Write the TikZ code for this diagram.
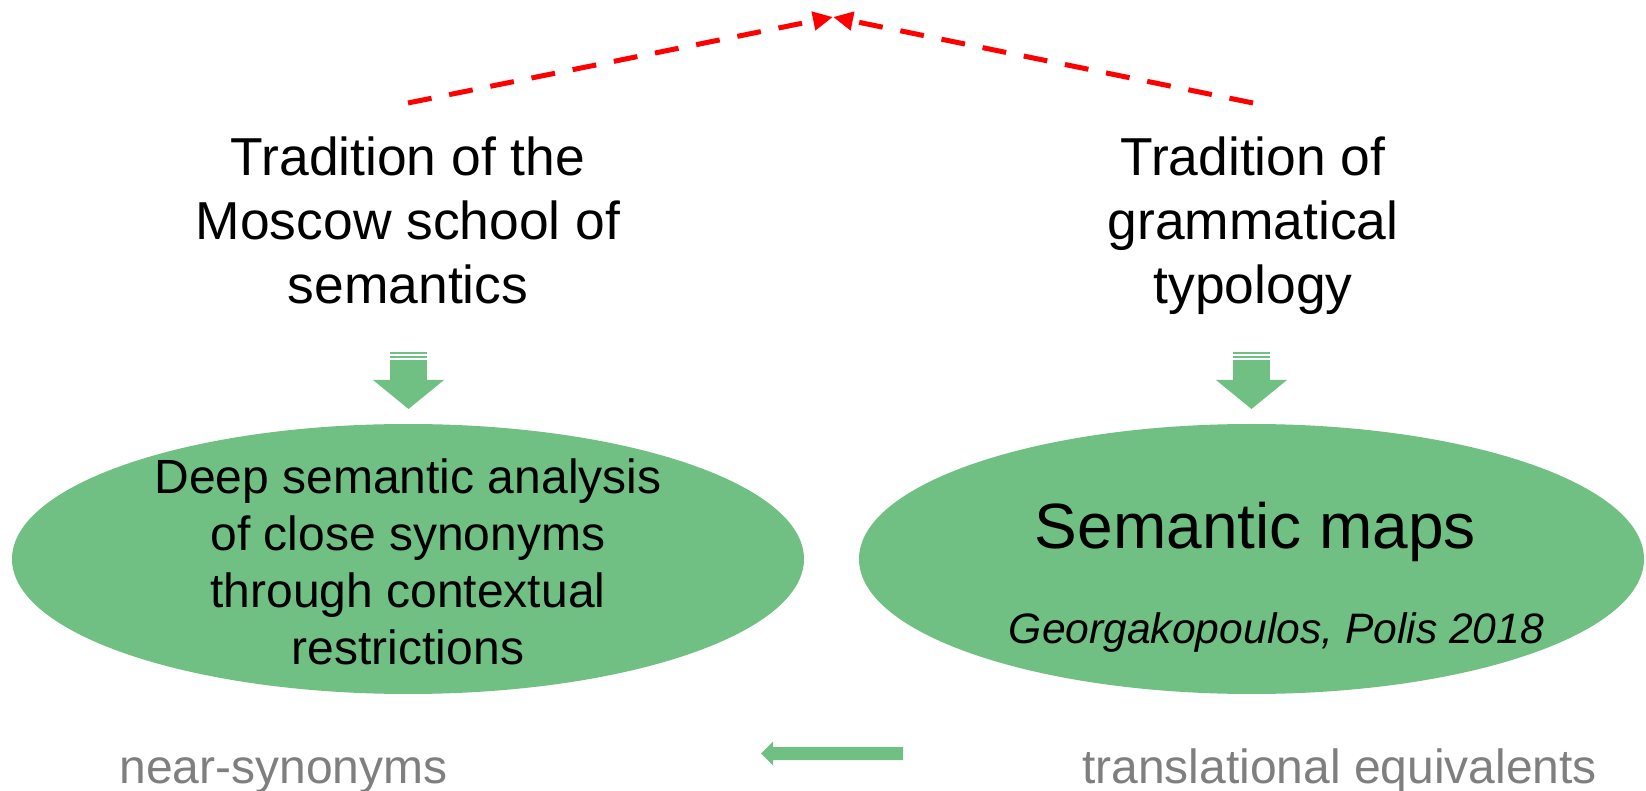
\documentclass[tikz,border=0pt]{standalone}
\usepackage{fontspec}
\setmainfont{Liberation Sans}
\usetikzlibrary{arrows.meta, positioning, shapes.geometric}
\definecolor{ovalgreen}{HTML}{70BF83}
\definecolor{notegray}{HTML}{7F7F7F}
\tikzset{
	titletext/.style={
			align=center,
			inner sep=0pt,
			anchor=north,
			font=\fontsize{26.7}{32}\selectfont
		},
	oval/.style={
			ellipse,
			fill=ovalgreen,
			draw=none,
			inner sep=0pt,
			minimum height=135pt
		},
	ovaltext/.style={
			align=center,
			inner sep=0pt,
			anchor=north,
			font=\fontsize{24}{28.5}\selectfont
		},
	notetext/.style={
			text=notegray,
			inner sep=0pt,
			anchor=base,
			font=\fontsize{24}{28}\selectfont
		},
	linkline/.style={
			draw=red,
			line width=2.5pt,
			dash pattern=on 12pt off 9pt,
			-{Triangle[length=10pt, width=9pt]}
		}
}

\begin{document}
\begin{tikzpicture}[x=0.5pt, y=-0.5pt]
\useasboundingbox (0,0) rectangle (1646,791);

% the two traditions
\node[titletext] (moscow) at (408,136) {Tradition of the\\Moscow school of\\semantics};
\node[titletext] (typology) at (1253,136) {Tradition of\\grammatical\\typology};

% red links to the common top point
\coordinate (apex) at (833,17);
\draw[linkline] ([yshift=16.5pt]moscow.north) -- (apex);
\draw[linkline] ([yshift=16.5pt]typology.north) -- (apex);

% striped block arrows
\foreach \ax in {408.5,1251.5} {
	\fill[ovalgreen] (\ax-18.5,352) rectangle (\ax+18.5,354);
	\fill[ovalgreen] (\ax-18.5,356) rectangle (\ax+18.5,358);
	\fill[ovalgreen] (\ax-18.5,360) rectangle (\ax+18.5,380.5);
	\fill[ovalgreen] (\ax-35.5,380) -- (\ax+35.5,380) -- (\ax,409) -- cycle;
}

% the two methods
\node[oval, minimum width=396pt] (deep) at (408,559) {};
\node[oval, minimum width=392.5pt] (maps) at (1251.5,559) {};

\node[ovaltext] (deeptext) at (408,458) {Deep semantic analysis\\of close synonyms\\through contextual\\restrictions};
\node[inner sep=0pt, anchor=base, font=\fontsize{32}{38}\selectfont] (mapstext) at (1255.5,548) {Semantic maps};
\node[inner sep=0pt, anchor=base, font=\fontsize{21.3}{26}\selectfont\itshape] (mapsref) at (1276.5,643) {Georgakopoulos, Polis 2018};

% bottom line
\node[notetext] (nearsyn) at (283.5,783) {near-synonyms};
\node[notetext] (transeq) at (1339.5,783) {translational equivalents};
\fill[ovalgreen] (761,753.5) -- (773,741.5) -- (773,747) -- (903,747) -- (903,760) -- (773,760) -- (773,765.5) -- cycle;
\end{tikzpicture}
\end{document}
